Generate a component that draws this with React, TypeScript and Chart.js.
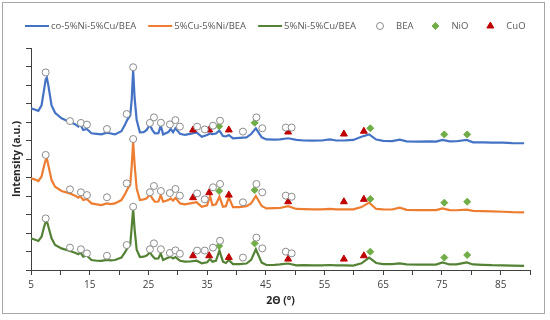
import React, { useEffect, useRef } from 'react';
import { Chart, registerables } from 'chart.js';

Chart.register(...registerables);

// 2θ angles (°) shared by the three diffractograms
const angles = [
  5, 5.6, 6.25, 6.8, 7.2, 7.5, 7.7, 8.0, 8.5, 9.1, 10.2, 11.6, 12.5, 13.05, 13.4, 13.9, 14.5, 15.3, 16.2, 17.0,
  17.9, 18.6, 19.3, 20.4, 21.0, 21.4, 21.9, 22.15, 22.4, 22.65, 23.0, 23.55, 24.2, 24.7, 25.25, 25.7, 26.1, 26.7,
  27.1, 27.5, 28.4, 28.8, 29.2, 29.6, 30.4, 31.2, 32.1, 33.2, 34.1, 35.0, 35.5, 35.9, 36.5, 37.1, 37.7, 38.2, 38.7,
  39.4, 40.5, 41.7, 42.5, 43.3, 44.3, 45.1, 46.5, 47.4, 48.8, 50.2, 51.5, 53.0, 54.5, 55.9, 57.0, 58.5, 59.9, 61.3,
  62.6, 63.8, 65.0, 66.5, 67.8, 69.0, 71.0, 73.0, 74.0, 75.1, 76.3, 77.5, 79.2, 80.3, 82.0, 83.5, 85.4, 87.0, 89.0,
];

const coNiCu = [
  8.74, 8.68, 8.6, 8.9, 9.7, 10.3, 10.4, 9.9, 8.9, 8.5, 8.2, 8.0, 7.88, 7.75, 7.87, 7.57, 7.62, 7.39, 7.36, 7.33,
  7.42, 7.38, 7.33, 7.5, 7.85, 8.12, 8.35, 9.2, 10.8, 9.3, 8.1, 7.44, 7.45, 7.57, 7.84, 7.55, 7.39, 7.4,
  7.8, 7.33, 7.46, 7.62, 7.45, 7.66, 7.36, 7.3, 7.36, 7.44, 7.2, 7.3, 7.38, 7.35, 7.38, 7.53, 7.24, 7.22, 7.3,
  7.12, 7.14, 7.17, 7.35, 7.66, 7.17, 7.06, 7.05, 7.06, 7.12, 7.03, 7.0, 6.99, 7.0, 7.06, 7.0, 7.01, 7.03, 7.2,
  7.33, 7.05, 6.98, 6.97, 7.05, 6.95, 6.94, 6.95, 6.94, 7.03, 6.95, 6.96, 7.03, 6.9, 6.9, 6.88, 6.88, 6.86, 6.85,
];

const cuNi = [
  4.96, 4.9, 4.81, 5.05, 5.6, 5.95, 6.04, 5.6, 4.86, 4.5, 4.27, 4.14, 4.02, 3.91, 3.99, 3.78, 3.84, 3.6, 3.55, 3.51,
  3.6, 3.56, 3.6, 3.78, 4.1, 4.35, 4.6, 5.6, 6.94, 5.7, 4.4, 3.78, 3.82, 3.87, 4.09, 3.85, 3.69, 3.7,
  4.05, 3.69, 3.78, 3.87, 3.75, 3.9, 3.6, 3.55, 3.6, 3.66, 3.42, 3.5, 4.0, 3.5, 3.55, 3.96, 3.42, 3.45, 3.93,
  3.4, 3.4, 3.45, 3.6, 4.0, 3.46, 3.33, 3.34, 3.35, 3.45, 3.3, 3.29, 3.28, 3.28, 3.3, 3.28, 3.28, 3.28, 3.4,
  3.64, 3.3, 3.28, 3.27, 3.37, 3.25, 3.24, 3.24, 3.24, 3.33, 3.24, 3.23, 3.26, 3.2, 3.18, 3.17, 3.15, 3.13, 3.12,
];

const niCu = [
  1.71, 1.65, 1.57, 1.8, 2.3, 2.6, 2.65, 2.3, 1.71, 1.35, 1.17, 1.03, 0.93, 0.85, 0.95, 0.72, 0.78, 0.54, 0.5, 0.49,
  0.55, 0.52, 0.54, 0.67, 0.95, 1.18, 1.35, 2.3, 3.3, 2.2, 1.1, 0.7, 0.72, 0.78, 0.95, 0.75, 0.62, 0.63,
  0.9, 0.54, 0.67, 0.72, 0.62, 0.7, 0.5, 0.45, 0.46, 0.5, 0.36, 0.42, 0.59, 0.45, 0.5, 1.05, 0.45, 0.38, 0.54,
  0.32, 0.32, 0.35, 0.55, 1.12, 0.4, 0.27, 0.28, 0.3, 0.35, 0.25, 0.26, 0.25, 0.25, 0.27, 0.25, 0.25, 0.24, 0.36,
  0.67, 0.38, 0.32, 0.32, 0.36, 0.3, 0.29, 0.29, 0.29, 0.41, 0.3, 0.3, 0.41, 0.3, 0.28, 0.26, 0.25, 0.24, 0.22,
];

// Phase markers
const beaAngles = [7.5, 11.64, 13.5, 14.53, 17.94, 21.3, 22.4, 25.26, 25.94, 27.13, 28.66, 29.6, 30.36, 33.3, 34.6, 36.0, 37.2, 41.1, 43.4, 44.4, 48.4, 49.4];
const beaCo = [10.68, 8.05, 7.95, 7.86, 7.62, 8.43, 10.96, 7.95, 8.25, 7.96, 7.87, 8.1, 7.75, 7.75, 7.6, 7.8, 8.07, 7.48, 8.25, 7.66, 7.7, 7.7];
const beaCu = [6.22, 4.36, 4.2, 4.05, 3.93, 4.68, 7.08, 4.2, 4.54, 4.27, 4.16, 4.38, 4.02, 4.14, 3.82, 4.47, 4.65, 3.66, 4.65, 4.2, 4.02, 3.96];
const beaNi = [2.79, 1.21, 1.12, 0.9, 0.77, 1.35, 3.42, 1.12, 1.44, 1.12, 0.92, 1.06, 0.88, 1.05, 1.05, 1.21, 1.58, 0.67, 1.75, 1.17, 0.99, 0.9];

const nioAngles = [37.05, 43.1, 62.8, 75.4, 79.3];
const nioCo = [7.77, 7.96, 7.66, 7.33, 7.33];
const nioCu = [4.27, 4.32, 3.84, 3.64, 3.69];
const nioNi = [1.3, 1.44, 0.99, 0.67, 0.81];

const cuoAngles = [32.6, 35.35, 38.7, 48.8, 58.3, 61.7];
const cuoCo = [7.57, 7.57, 7.57, 7.46, 7.35, 7.5];
const cuoCu = [3.91, 4.18, 4.05, 3.69, 3.69, 3.82];
const cuoNi = [0.77, 0.77, 0.68, 0.59, 0.59, 0.77];

const seriesLabels = ['co-5%Ni-5%Cu/BEA', '5%Cu-5%Ni/BEA', '5%Ni-5%Cu/BEA'];
const phaseLabels = ['BEA', 'NiO', 'CuO'];
const xTickLabels = ['5', '15', '25', '35', '45', '55', '65', '75', '85'];

const FONT = '"Open Sans", "DejaVu Sans", sans-serif';

const pts = (xs: number[], ...ys: number[][]) => {
  const out: { x: number; y: number }[] = [];
  ys.forEach((arr) => arr.forEach((v, i) => out.push({ x: xs[i], y: v })));
  return out;
};
const line = (ys: number[]) => angles.map((a, i) => ({ x: a, y: ys[i] }));

function drawMarker(ctx: CanvasRenderingContext2D, style: string, x: number, y: number, r: number) {
  ctx.beginPath();
  if (style === 'circle') {
    ctx.arc(x, y, r, 0, Math.PI * 2);
  } else if (style === 'rectRot') {
    ctx.moveTo(x, y - r);
    ctx.lineTo(x + r, y);
    ctx.lineTo(x, y + r);
    ctx.lineTo(x - r, y);
    ctx.closePath();
  } else {
    const h = r * 1.5;
    const w = r * Math.sqrt(3) / 2;
    ctx.moveTo(x, y - r);
    ctx.lineTo(x + w, y + h - r);
    ctx.lineTo(x - w, y + h - r);
    ctx.closePath();
  }
  ctx.fill();
  ctx.stroke();
}

const framePlugin = {
  id: 'frame',
  beforeDraw(chart: any) {
    const ctx = chart.ctx as CanvasRenderingContext2D;
    ctx.save();
    ctx.fillStyle = '#ffffff';
    ctx.fillRect(0, 0, chart.width, chart.height);
    ctx.strokeStyle = '#a6a6a6';
    ctx.lineWidth = 1;
    ctx.strokeRect(2.5, 2.5, 542, 311);
    ctx.restore();
  },
};

const legendPlugin = {
  id: 'customLegend',
  afterDraw(chart: any) {
    const ctx = chart.ctx as CanvasRenderingContext2D;
    const y = 26;
    let x = 25;
    ctx.save();
    ctx.font = `9.5px ${FONT}`;
    ctx.textBaseline = 'middle';
    chart.data.datasets.forEach((ds: any) => {
      if (ds.type === 'line') {
        ctx.strokeStyle = ds.borderColor;
        ctx.lineWidth = 2;
        ctx.beginPath();
        ctx.moveTo(x, y);
        ctx.lineTo(x + 24, y);
        ctx.stroke();
        ctx.fillStyle = '#595959';
        ctx.fillText(ds.label, x + 26, y);
        x = x + 26 + ctx.measureText(ds.label).width + 12;
      } else {
        ctx.fillStyle = ds.backgroundColor;
        ctx.strokeStyle = ds.borderColor;
        ctx.lineWidth = ds.borderWidth;
        drawMarker(ctx, ds.pointStyle, x + 12, y, ds.pointRadius);
        ctx.fillStyle = '#595959';
        ctx.fillText(ds.label, x + 28, y);
        x = x + 28 + ctx.measureText(ds.label).width + 10;
      }
    });
    ctx.restore();
  },
};

export default function App() {
  const ref = useRef<HTMLCanvasElement | null>(null);

  useEffect(() => {
    document.body.style.margin = '0';
    if (!ref.current) return;
    const chart = new Chart(ref.current, {
      type: 'scatter',
      data: {
        datasets: [
          { type: 'line', label: seriesLabels[0], data: line(coNiCu), borderColor: '#4472c4', borderWidth: 2.2, pointRadius: 0, tension: 0, order: 2 },
          { type: 'line', label: seriesLabels[1], data: line(cuNi), borderColor: '#ed7d31', borderWidth: 2.2, pointRadius: 0, tension: 0, order: 2 },
          { type: 'line', label: seriesLabels[2], data: line(niCu), borderColor: '#548235', borderWidth: 2.2, pointRadius: 0, tension: 0, order: 2 },
          { type: 'scatter', label: phaseLabels[0], data: pts(beaAngles, beaCo, beaCu, beaNi), pointStyle: 'circle', pointRadius: 3.5, backgroundColor: '#ffffff', borderColor: '#8c8c8c', borderWidth: 1, order: 0 },
          { type: 'scatter', label: phaseLabels[1], data: pts(nioAngles, nioCo, nioCu, nioNi), pointStyle: 'rectRot', pointRadius: 3.5, backgroundColor: '#70ad47', borderColor: '#70ad47', borderWidth: 1, order: 0 },
          { type: 'scatter', label: phaseLabels[2], data: pts(cuoAngles, cuoCo, cuoCu, cuoNi), pointStyle: 'triangle', pointRadius: 4, backgroundColor: '#c00000', borderColor: '#c00000', borderWidth: 1, order: 0 },
        ] as any,
      },
      options: {
        responsive: false,
        animation: false,
        events: [],
        layout: { padding: { left: 11, right: 20, top: 48, bottom: 13 } },
        plugins: { legend: { display: false }, tooltip: { enabled: false } },
        scales: {
          x: {
            type: 'linear',
            min: 5,
            max: 90,
            ticks: {
              stepSize: 5,
              autoSkip: false,
              maxRotation: 0,
              padding: 4,
              color: '#404040',
              font: { family: FONT, size: 10 },
              callback: (v: any) => (xTickLabels.includes(String(v)) ? String(v) : ''),
            },
            grid: { display: true, drawOnChartArea: false, drawTicks: true, tickLength: 5, color: '#404040' },
            border: { display: true, color: '#404040', width: 1 },
            title: { display: true, text: '2Θ (°)', color: '#262626', padding: 0, font: { family: FONT, size: 10.5, weight: 'bold' } },
            afterFit: (s: any) => { s.height = 37; },
          },
          y: {
            min: 0,
            max: 12,
            ticks: { stepSize: 1, display: false },
            grid: { display: true, drawOnChartArea: false, drawTicks: true, tickLength: 5, color: '#404040' },
            border: { display: true, color: '#404040', width: 1 },
            title: { display: true, text: 'Intensity (a.u.)', color: '#262626', padding: 0, font: { family: FONT, size: 10.5, weight: 'bold' } },
            afterFit: (s: any) => { s.width = 20; },
          },
        },
      } as any,
      plugins: [framePlugin, legendPlugin],
    });
    return () => chart.destroy();
  }, []);

  return (
    <div style={{ width: 550, height: 320 }}>
      <canvas ref={ref} width={550} height={320} />
    </div>
  );
}
